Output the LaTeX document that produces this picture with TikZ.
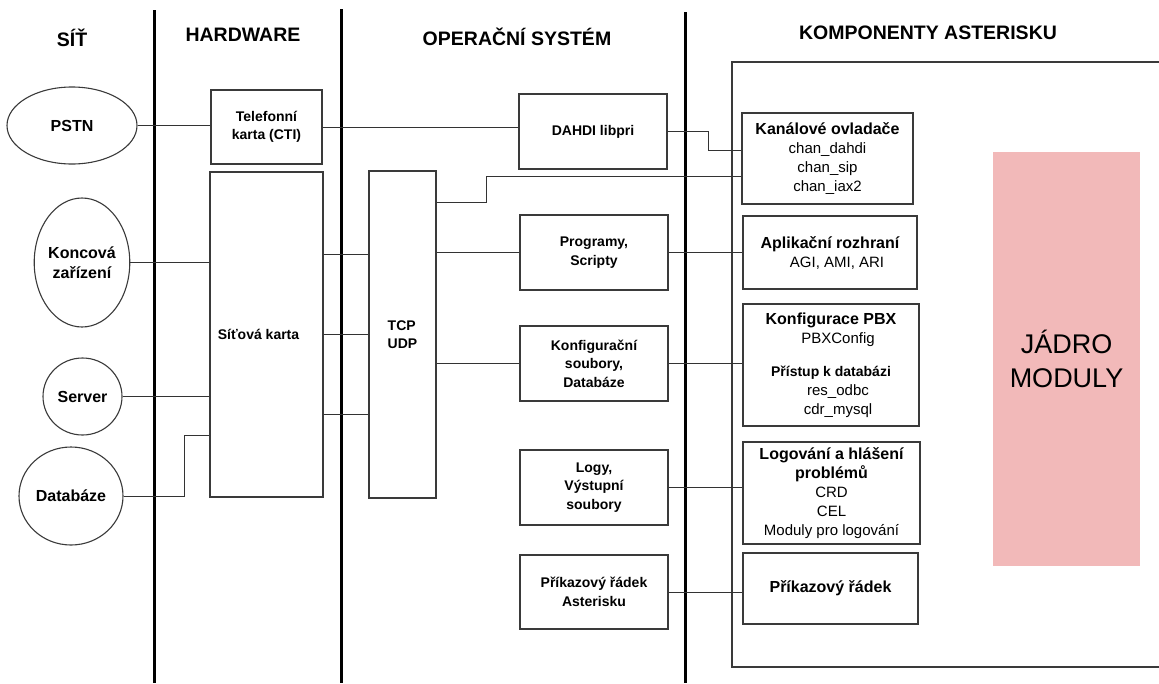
\documentclass[tikz,border=0pt]{standalone}
\usepackage{fontspec}
\setmainfont{Liberation Sans}
\usetikzlibrary{shapes.geometric}
\definecolor{boxc}{HTML}{3A3A3A}
\definecolor{linec}{HTML}{333333}
\definecolor{pinkc}{HTML}{F2B9B9}
\newcommand{\hdrfont}{\fontsize{19.5}{23}\selectfont\bfseries}
\newcommand{\midfont}{\fontsize{14}{18.5}\selectfont\bfseries}
\newcommand{\ellfont}{\fontsize{16}{20}\selectfont\bfseries}
\newcommand{\regfont}{\fontsize{15}{19}\selectfont}
\newcommand{\ttl}{\fontsize{16}{19}\selectfont\bfseries}
\newcommand{\subttl}{\fontsize{14}{19}\selectfont\bfseries}
\tikzset{
  box/.style={draw=boxc, line width=1.1pt, fill=white, align=center, inner sep=0pt},
  midbox/.style={box, font=\midfont},
  rbox/.style={box, font=\regfont},
  ell/.style={draw=boxc, line width=1.1pt, ellipse, fill=white, align=center, inner sep=0pt, font=\ellfont},
  conn/.style={draw=linec, line width=1pt},
  sepline/.style={line width=3pt, black},
  hdr/.style={font=\hdrfont, inner sep=0pt}
}
\begin{document}
\begin{tikzpicture}[x=1pt,y=-1pt]
\useasboundingbox (0,0) rectangle (1159,683);
% headers
\node[hdr] (h1) at (72,38) {SÍŤ};
\node[hdr] (h2) at (243,35) {HARDWARE};
\node[hdr] (h3) at (517,37) {OPERAČNÍ SYSTÉM};
\node[hdr] (h4) at (928,33) {KOMPONENTY ASTERISKU};
% separators
\coordinate (s1t) at (154,10); \coordinate (s1b) at (154,683);
\coordinate (s2t) at (341,9); \coordinate (s2b) at (341,683);
\coordinate (s3t) at (685,12); \coordinate (s3b) at (685,683);
\draw[sepline] (s1t) -- (s1b);
\draw[sepline] (s2t) -- (s2b);
\draw[sepline] (s3t) -- (s3b);
% asterisk container
\draw[draw=boxc, line width=1.1pt] (1162,62) -- (732,62) -- (732,667) -- (1162,667);
% left nodes
\node[ell, minimum width=130, minimum height=77] (pstn) at (72,125.5) {PSTN};
\node[ell, minimum width=78, minimum height=129] (konc) at (82,262.5) {Koncová\\zařízení};
\node[ell, minimum width=79, minimum height=77] (serv) at (82.5,396.5) {Server};
\node[ell, minimum width=104, minimum height=98] (db) at (71,496) {Databáze};
% hardware
\node[midbox, minimum width=111, minimum height=74] (tel) at (266.5,127) {Telefonní\\karta (CTI)};
\node[midbox, minimum width=113, minimum height=325] (sit) at (266.5,334.5) {Síťová karta\hspace*{16pt}};
% OS
\node[midbox, minimum width=67, minimum height=327, align=left] (tcp) at (402.5,334.5) {TCP\\UDP};
\node[midbox, minimum width=148, minimum height=75] (dahdi) at (593,131.5) {DAHDI libpri};
\node[midbox, minimum width=148, minimum height=75] (prog) at (594,252.5) {Programy,\\Scripty};
\node[midbox, minimum width=148, minimum height=75] (konf) at (594,363.5) {Konfigurační\\soubory,\\Databáze};
\node[midbox, minimum width=148, minimum height=75] (logy) at (594,487.5) {Logy,\\Výstupní\\soubory};
\node[midbox, minimum width=148, minimum height=74] (prik) at (594,592) {Příkazový řádek\\Asterisku};
% asterisk components
\node[rbox, minimum width=171, minimum height=91] (kan) at (827.5,158.5) {{\ttl Kanálové ovladače}\\chan\_dahdi\\chan\_sip\\chan\_iax2};
\node[rbox, minimum width=174, minimum height=73] (apl) at (830,252.5) {{\ttl Aplikační rozhraní}\\\hspace*{14pt}AGI, AMI, ARI};
\node[rbox, minimum width=176, minimum height=122] (kpbx) at (831,365) {{\ttl Konfigurace PBX}\\\hspace*{14pt}PBXConfig\\[14pt]{\subttl Přístup k databázi}\\\hspace*{14pt}res\_odbc\\\hspace*{14pt}cdr\_mysql};
\node[rbox, minimum width=177, minimum height=102] (logk) at (831.5,493) {{\ttl Logování a hlášení}\\{\ttl problémů}\\CRD\\CEL\\Moduly pro logování};
\node[rbox, minimum width=175, minimum height=71] (prikk) at (830.5,588.5) {{\ttl Příkazový řádek}};
\node[fill=pinkc, minimum width=147, minimum height=414, inner sep=0pt, align=center, font=\fontsize{27}{34}\selectfont] (jadro) at (1066.5,359) {JÁDRO\\MODULY};
% connectors
\draw[conn] (pstn.east) -- (pstn.east -| tel.west);
\draw[conn] (tel.east) -- (tel.east -| dahdi.west);
\coordinate (d1) at (708,150);
\draw[conn] (dahdi.east) -| (d1) -- (d1 -| kan.west);
\coordinate (t1) at (486,202);
\coordinate (t2) at (486,176);
\draw[conn] (t1 -| tcp.east) -- (t1) -- (t2) -- (t2 -| kan.west);
\draw[conn] (konc.east) -- (konc.east -| sit.west);
\draw[conn] (serv.east) -- (serv.east -| sit.west);
\coordinate (b1) at (184,435);
\draw[conn] (db.east) -| (b1) -- (b1 -| sit.west);
\draw[conn] ([yshift=80.5pt]sit.east) -- ([yshift=80.5pt]sit.east -| tcp.west);
\draw[conn] (sit.east) -- (tcp.west);
\draw[conn] ([yshift=-79.5pt]sit.east) -- ([yshift=-79.5pt]sit.east -| tcp.west);
\draw[conn] (prog.west -| tcp.east) -- (prog.west);
\draw[conn] (konf.west -| tcp.east) -- (konf.west);
\draw[conn] (prog.east) -- (prog.east -| apl.west);
\draw[conn] (konf.east) -- (konf.east -| kpbx.west);
\draw[conn] (logy.east) -- (logy.east -| logk.west);
\draw[conn] (prik.east) -- (prik.east -| prikk.west);
\end{tikzpicture}
\end{document}
